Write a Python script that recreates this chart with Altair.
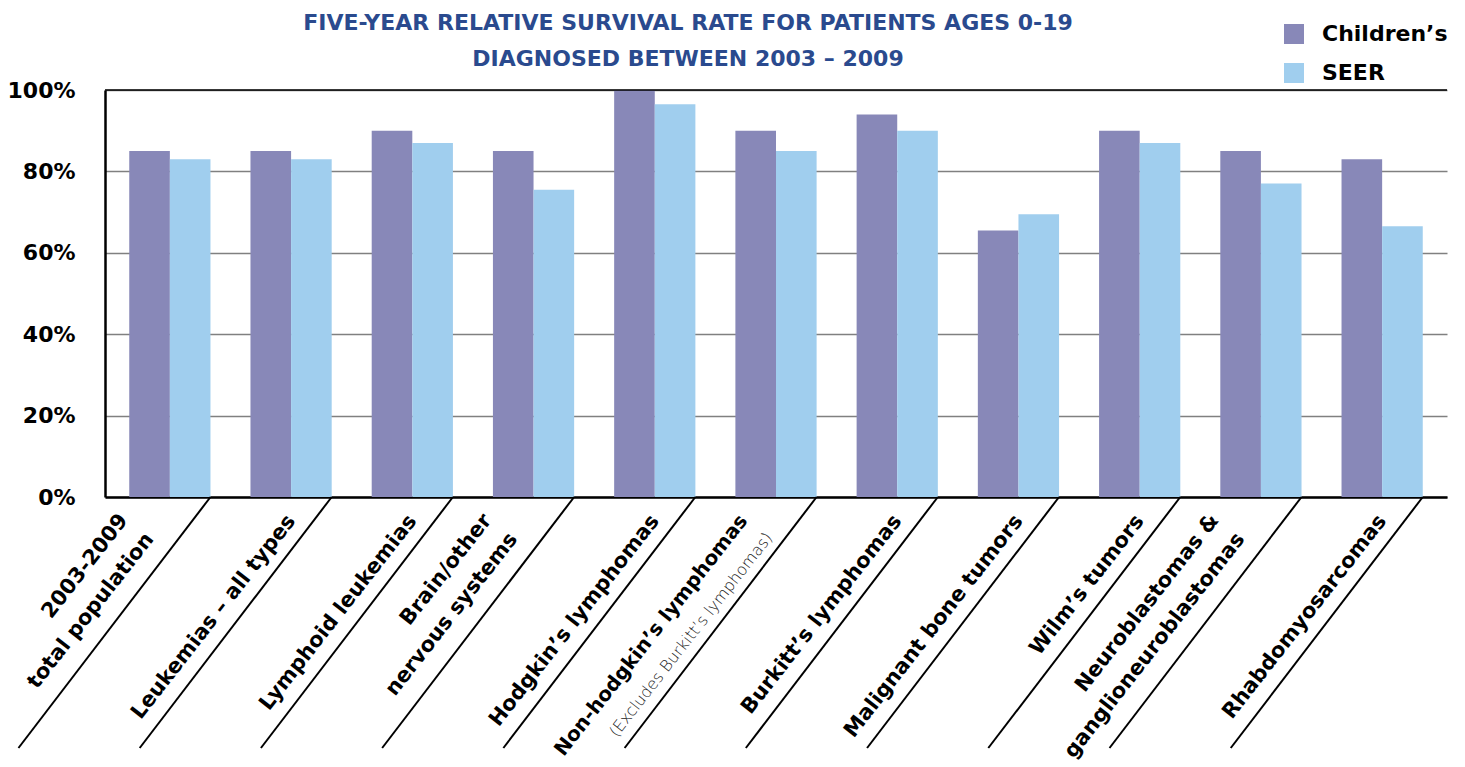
import altair as alt
import pandas as pd

categories = [
    "2003-2009 total population", "Leukemias – all types", "Lymphoid leukemias",
    "Brain/other nervous systems", "Hodgkin’s lymphomas", "Non-hodgkin’s lymphomas",
    "Burkitt’s lymphomas", "Malignant bone tumors", "Wilm’s tumors",
    "Neuroblastomas & ganglioneuroblastomas", "Rhabdomyosarcomas",
]
label_line1 = [
    "2003-2009", "Leukemias – all types", "Lymphoid leukemias", "Brain/other",
    "Hodgkin’s lymphomas", "Non-hodgkin’s lymphomas", "Burkitt’s lymphomas",
    "Malignant bone tumors", "Wilm’s tumors", "Neuroblastomas &", "Rhabdomyosarcomas",
]
label_line2 = ["total population", "", "", "nervous systems", "", "", "", "", "",
               "ganglioneuroblastomas", ""]
label_note = ["", "", "", "", "", "(Excludes Burkitt’s lymphomas)", "", "", "", "", ""]

childrens = [85, 85, 90, 85, 100, 90, 94, 65.5, 90, 85, 83]
seer = [83, 83, 87, 75.5, 96.5, 85, 90, 69.5, 87, 77, 66.5]

series_names = ["Children’s", "SEER"]
series_colors = ["#8888B8", "#A0CEEE"]
y_ticks = [0, 20, 40, 60, 80, 100]

title_lines = ["FIVE-YEAR RELATIVE SURVIVAL RATE FOR PATIENTS AGES 0-19",
               "DIAGNOSED BETWEEN 2003 – 2009"]

FONT = "DejaVu Sans"
PAD_IN = 0.33
PAD_OUT = 0.2

long_rows = []
for c, a, b in zip(categories, childrens, seer):
    long_rows.append({"category": c, "series": series_names[0], "value": a})
    long_rows.append({"category": c, "series": series_names[1], "value": b})
bars_df = pd.DataFrame(long_rows)

labels_df = pd.DataFrame({
    "category": categories,
    "line1": label_line1,
    "line2": label_line2,
    "note": label_note,
    "idx": list(range(len(categories))),
})
labels_df["sep"] = labels_df["idx"] + PAD_OUT + (1 - PAD_IN)

x_band = alt.X(
    "category:N", sort=categories, title=None,
    scale=alt.Scale(paddingInner=PAD_IN, paddingOuter=PAD_OUT),
    axis=alt.Axis(labels=False, ticks=False, domain=True, domainColor="black",
                  domainWidth=2.5, grid=False),
)
y_scale = alt.Scale(domain=[0, 100], nice=False)

bars = alt.Chart(bars_df).mark_bar().encode(
    x=x_band,
    xOffset=alt.XOffset("series:N", sort=series_names,
                        scale=alt.Scale(paddingInner=0, paddingOuter=0)),
    y=alt.Y("value:Q", scale=y_scale, title=None,
            axis=alt.Axis(values=y_ticks, labelExpr="datum.value + '%'",
                          labelFont=FONT, labelFontSize=22, labelFontWeight="bold",
                          labelColor="black", labelPadding=30, ticks=False,
                          domain=True, domainColor="black", domainWidth=2.5,
                          grid=True, gridColor="#808080", gridWidth=1.5)),
    color=alt.Color("series:N", sort=series_names,
                    scale=alt.Scale(domain=series_names, range=series_colors),
                    legend=alt.Legend(title=None, orient="none", legendX=1178, legendY=-67,
                                      symbolType="square", symbolSize=400,
                                      symbolStrokeWidth=0, labelFont=FONT,
                                      labelFontSize=22, labelFontWeight="bold",
                                      labelColor="black", labelOffset=17,
                                      rowPadding=17)),
)

top_line = alt.Chart(pd.DataFrame({"v": [y_ticks[-1]]})).mark_rule(
    color="black", strokeWidth=1.5).encode(y=alt.Y("v:Q", scale=y_scale))

label_base = alt.Chart(labels_df)
txt_common = dict(angle=308, align="right", baseline="top", font=FONT,
                  fontWeight="bold", color="black")

single = label_base.transform_filter(
    "datum.line2 == '' && datum.note == ''").mark_text(
    dx=-16, dy=2, fontSize=21, **txt_common).encode(
    x=alt.X("category:N", sort=categories), y=alt.datum(0), text="line1:N")

two_a = label_base.transform_filter("datum.line2 != ''").mark_text(
    dx=-44, dy=-35, fontSize=21, **txt_common).encode(
    x=alt.X("category:N", sort=categories), y=alt.datum(0), text="line1:N")
two_b = label_base.transform_filter("datum.line2 != ''").mark_text(
    dx=-43, dy=-3, fontSize=21, **txt_common).encode(
    x=alt.X("category:N", sort=categories), y=alt.datum(0), text="line2:N")

note_a = label_base.transform_filter("datum.note != ''").mark_text(
    dx=-36, dy=-23, fontSize=20, **txt_common).encode(
    x=alt.X("category:N", sort=categories), y=alt.datum(0), text="line1:N")
note_b = label_base.transform_filter("datum.note != ''").mark_text(
    dx=-34, dy=10, angle=308, align="right", baseline="top", font=FONT,
    fontSize=16, fontWeight=300, color="#222222").encode(
    x=alt.X("category:N", sort=categories), y=alt.datum(0), text="note:N")

seps = label_base.mark_rule(color="black", strokeWidth=2, x2Offset=-192, y2Offset=251).encode(
    x=alt.X("sep:Q", scale=alt.Scale(domain=[0, len(categories) - PAD_IN + 2 * PAD_OUT],
                                     nice=False, zero=True), axis=None),
    x2="sep:Q",
    y=alt.datum(0),
    y2=alt.datum(0),
)

main = alt.layer(bars, top_line, single, two_a, two_b, note_a, note_b)
chart = alt.layer(main, seps).resolve_scale(x="independent").properties(
    width=1342, height=407,
    autosize="none",
    background="white",
    padding={"left": 105, "top": 90, "right": 18, "bottom": 270},
    title=alt.TitleParams(text=title_lines, font=FONT, fontSize=22, fontWeight="bold",
                          color="#2A4A8E", anchor="middle", dx=-88, dy=62, offset=14,
                          lineHeight=36),
).configure_view(stroke=None)

chart.save("out.html", embed_options={"renderer": "svg", "actions": False})
